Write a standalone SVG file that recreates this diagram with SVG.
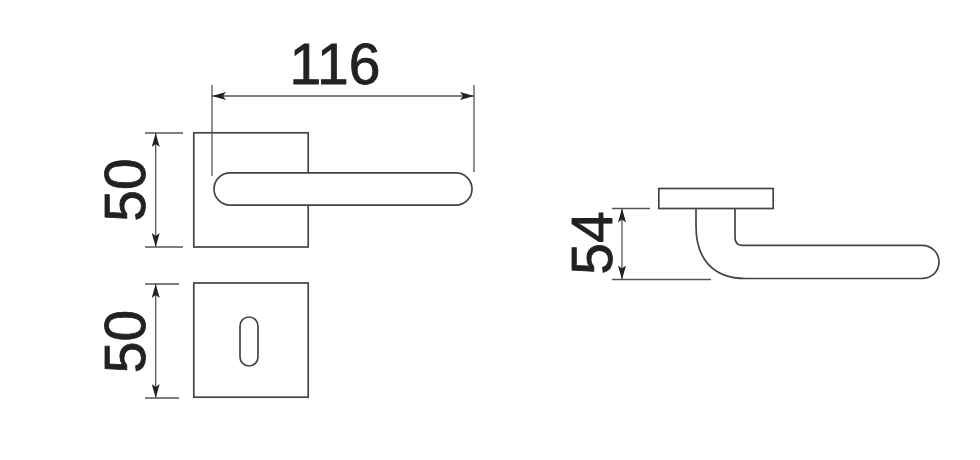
<svg xmlns="http://www.w3.org/2000/svg" width="980" height="460" viewBox="0 0 980 460">
  <style>
    .o { fill: #fff; stroke: #444; stroke-width: 1.7; }
    .d { fill: none; stroke: #555; stroke-width: 1.3; }
    .t { font-family: "Liberation Sans", Arial, sans-serif; font-size: 57px; fill: #222; stroke: #222; stroke-width: 0.8; text-anchor: middle; }
  </style>
  <defs>
    <marker id="a" viewBox="0 0 14 8" refX="14" refY="4" markerWidth="14" markerHeight="8" markerUnits="userSpaceOnUse" orient="auto-start-reverse">
      <path d="M0 0L14 4L0 8L3 4Z" fill="#222"/>
    </marker>
  </defs>
  <rect width="980" height="460" fill="#fff"/>
  <g id="plate-top"><rect class="o" x="193.8" y="132.8" width="114.4" height="114.2"/></g>
  <g id="plate-bottom"><rect class="o" x="193.8" y="283" width="114.4" height="114.2"/></g>
  <g id="keyhole"><rect class="o" x="240" y="317" width="18" height="49" rx="9" ry="9"/></g>
  <g id="handle-top"><rect class="o" x="214" y="172.8" width="258" height="32.4" rx="16.2" ry="16.2"/></g>
  <g id="handle-side"><path class="o" d="M696 208.5V226C696 258 712 278 745 278.5H922C932 278.5 939 271 939 262C939 253 932 245.3 922 245.3H742C737 245.3 735 242 735 237V208.5"/></g>
  <g id="rose-side"><rect class="o" x="658.8" y="188.5" width="114.4" height="20"/></g>
  <g id="connectors">
    <path class="d" d="M212 85V176M474 85V172M145 133H183M145 247H183M145 284H179M145 398H179M612 208.5H650M612 279.5H711"/>
    <path class="d" marker-start="url(#a)" marker-end="url(#a)" d="M212 96H474"/>
    <path class="d" marker-start="url(#a)" marker-end="url(#a)" d="M155.7 133V247"/>
    <path class="d" marker-start="url(#a)" marker-end="url(#a)" d="M155.7 284V398"/>
    <path class="d" marker-start="url(#a)" marker-end="url(#a)" d="M622 208.5V279.5"/>
  </g>
  <g id="labels">
    <text class="t" x="335" y="84">116</text>
    <text class="t" transform="translate(144.5 190) rotate(-90)">50</text>
    <text class="t" transform="translate(144.5 341.5) rotate(-90)">50</text>
    <text class="t" transform="translate(612 243) rotate(-90)">54</text>
  </g>
</svg>
